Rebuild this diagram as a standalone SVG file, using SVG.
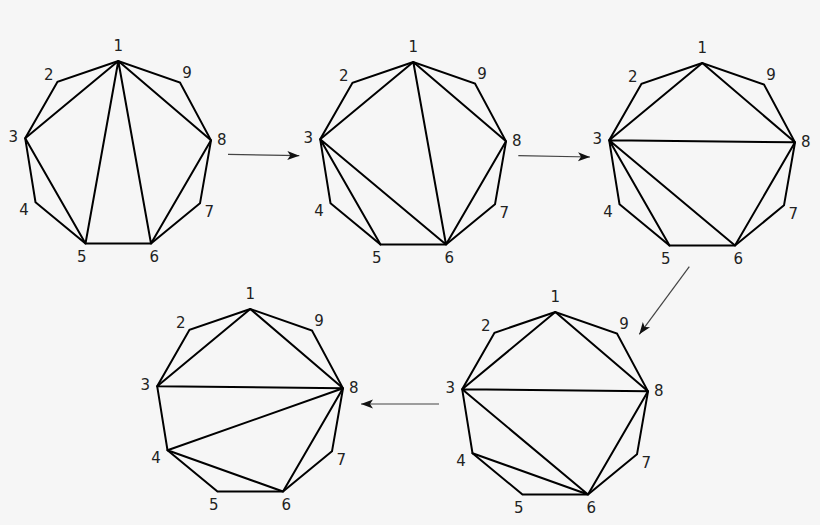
<svg xmlns="http://www.w3.org/2000/svg" width="820" height="525" viewBox="0 0 820 525">
<defs>
<style>
.edge{fill:none;stroke:#000;stroke-width:2;stroke-linejoin:miter;stroke-linecap:round}
.lbl{font-family:"DejaVu Sans","Liberation Sans",sans-serif;font-size:15px;fill:#222;text-anchor:middle}
.conn{fill:none;stroke:#444;stroke-width:1.2}
</style>
<marker id="ah" viewBox="-13 -5 14 10" refX="0" refY="0" markerWidth="14" markerHeight="10" markerUnits="userSpaceOnUse" orient="auto">
<path d="M0,0 L-12,-4.5 L-9,0 L-12,4.5 Z" fill="#111"/>
</marker>
<polygon id="nonagon" class="edge" points="118.3,61 57.5,81.8 25.2,138.3 35.5,202.2 85.5,243.5 151,243.5 200,203.3 211,140.3 180,82.5"/>
<g id="labels">
<text class="lbl" x="118.3" y="51.2">1</text>
<text class="lbl" x="48.7" y="79.5">2</text>
<text class="lbl" x="13.3" y="141.5">3</text>
<text class="lbl" x="24" y="214.5">4</text>
<text class="lbl" x="81.7" y="262.2">5</text>
<text class="lbl" x="154.3" y="262.2">6</text>
<text class="lbl" x="209.3" y="217.2">7</text>
<text class="lbl" x="221.7" y="144.8">8</text>
<text class="lbl" x="187" y="78.2">9</text>
</g>
</defs>
<rect width="820" height="525" fill="#f6f6f6"/>

<g id="step1">
<use href="#nonagon"/>
<path class="edge" d="M118.3,61 L25.2,138.3 M118.3,61 L85.5,243.5 M118.3,61 L151,243.5 M118.3,61 L211,140.3 M25.2,138.3 L85.5,243.5 M151,243.5 L211,140.3"/>
<use href="#labels"/>
</g>

<g id="step2" transform="translate(295,1)">
<use href="#nonagon"/>
<path class="edge" d="M118.3,61 L25.2,138.3 M118.3,61 L151,243.5 M118.3,61 L211,140.3 M25.2,138.3 L85.5,243.5 M25.2,138.3 L151,243.5 M151,243.5 L211,140.3"/>
<use href="#labels"/>
</g>

<g id="step3" transform="translate(584,2)">
<use href="#nonagon"/>
<path class="edge" d="M118.3,61 L25.2,138.3 M118.3,61 L211,140.3 M25.2,138.3 L211,140.3 M25.2,138.3 L85.5,243.5 M25.2,138.3 L151,243.5 M151,243.5 L211,140.3"/>
<use href="#labels"/>
</g>

<g id="step4" transform="translate(437,251)">
<use href="#nonagon"/>
<path class="edge" d="M118.3,61 L25.2,138.3 M118.3,61 L211,140.3 M25.2,138.3 L211,140.3 M25.2,138.3 L151,243.5 M35.5,202.2 L151,243.5 M151,243.5 L211,140.3"/>
<use href="#labels"/>
</g>

<g id="step5" transform="translate(132,248)">
<use href="#nonagon"/>
<path class="edge" d="M118.3,61 L25.2,138.3 M118.3,61 L211,140.3 M25.2,138.3 L211,140.3 M35.5,202.2 L211,140.3 M35.5,202.2 L151,243.5 M151,243.5 L211,140.3"/>
<use href="#labels"/>
</g>

<g id="connectors">
<line class="conn" x1="228" y1="154.3" x2="299.3" y2="155.7" marker-end="url(#ah)"/>
<line class="conn" x1="518.3" y1="155.7" x2="590" y2="157" marker-end="url(#ah)"/>
<line class="conn" x1="689.3" y1="266.7" x2="639.3" y2="334.3" marker-end="url(#ah)"/>
<line class="conn" x1="439" y1="404" x2="361" y2="404" marker-end="url(#ah)"/>
</g>
</svg>
